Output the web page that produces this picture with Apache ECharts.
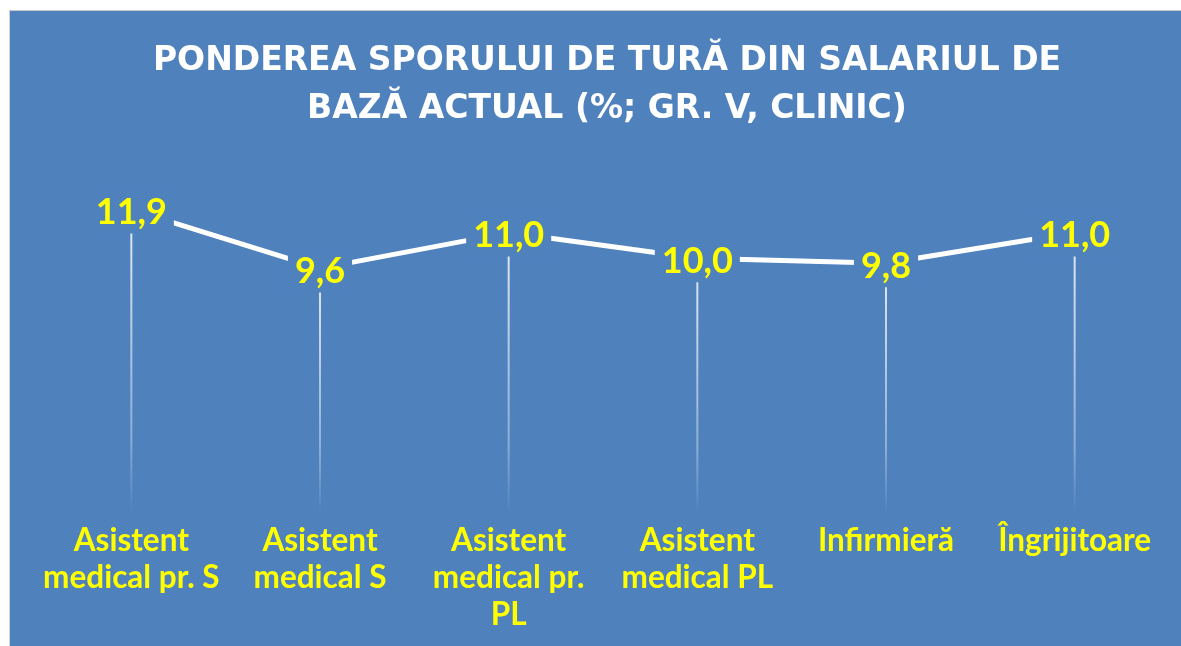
<!DOCTYPE html>
<html>
<head>
<meta charset="utf-8">
<script src="https://cdn.jsdelivr.net/npm/echarts@6/dist/echarts.min.js"></script>
<style>
  html, body { margin: 0; padding: 0; background: #ffffff; width: 1181px; height: 646px; overflow: hidden; }
  #chart { position: absolute; left: 9px; top: 10px; width: 1172px; height: 636px; border-top: 1px solid #c8c8c8; border-left: 1px solid #d0d0d0; box-sizing: border-box; }
</style>
</head>
<body>
<div id="chart"></div>
<script>
const titleLines = ['PONDEREA SPORULUI DE TURĂ DIN SALARIUL DE', 'BAZĂ ACTUAL (%; GR. V, CLINIC)'];
const categories = ['Asistent\nmedical pr. S', 'Asistent\nmedical S', 'Asistent\nmedical pr.\nPL', 'Asistent\nmedical PL', 'Infirmieră', 'Îngrijitoare'];
const values = [11.9, 9.6, 11.0, 10.0, 9.8, 11.0];

const BLUE = '#4F81BD';
const chart = echarts.init(document.getElementById('chart'));
chart.setOption({
  backgroundColor: BLUE,
  animation: false,
  title: {
    text: titleLines.join('\n'),
    left: 592,
    top: 21,
    textAlign: 'center',
    textStyle: {
      color: '#ffffff',
      fontFamily: 'DejaVu Sans',
      fontWeight: 'bold',
      fontSize: 33,
      lineHeight: 48
    }
  },
  grid: { left: 27, right: 12, top: 196, bottom: 132, containLabel: false },
  xAxis: {
    type: 'category',
    data: categories,
    boundaryGap: true,
    axisLine: { show: false },
    axisTick: { show: false },
    splitLine: { show: false },
    axisLabel: {
      interval: 0,
      margin: 8,
      color: '#FFFF00',
      fontFamily: 'Lato',
      fontWeight: 'bold',
      fontSize: 31.5,
      lineHeight: 37,
      align: 'center'
    }
  },
  yAxis: { type: 'value', min: 0, max: 12, show: false, splitLine: { show: false } },
  series: [
    {
      type: 'bar',
      data: values,
      barWidth: 2,
      z: 1,
      silent: true,
      itemStyle: {
        color: new echarts.graphic.LinearGradient(0, 0, 0, 1, [
          { offset: 0, color: 'rgba(255,255,255,0.85)' },
          { offset: 0.75, color: 'rgba(255,255,255,0.35)' },
          { offset: 1, color: 'rgba(255,255,255,0)' }
        ])
      }
    },
    {
      type: 'line',
      data: values,
      z: 3,
      showSymbol: true,
      symbol: 'circle',
      symbolSize: 1,
      itemStyle: { color: 'rgba(255,255,255,0)' },
      lineStyle: { color: '#ffffff', width: 5 },
      label: {
        show: true,
        position: 'inside',
        offset: [0, 3],
        formatter: p => p.value.toFixed(1).replace('.', ','),
        color: '#FFFF00',
        fontFamily: 'Lato',
        fontWeight: 'bold',
        fontSize: 36,
        backgroundColor: BLUE,
        padding: [3, 7, 3, 7]
      }
    }
  ]
});
</script>
</body>
</html>
